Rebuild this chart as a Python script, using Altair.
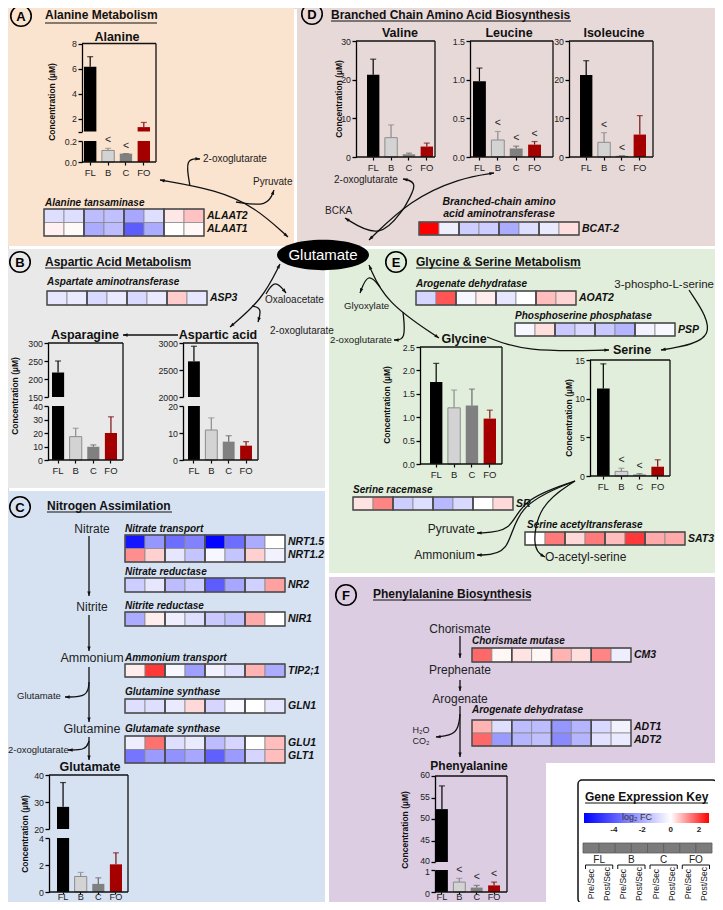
import math
import altair as alt
import pandas as pd

# ============================ DATA ============================
CATS = ["FL", "B", "C", "FO"]
CONDS = ["Pre/Sec", "Post/Sec"]
COLS = [f"{g}|{c}" for g in CATS for c in CONDS]

# metabolite concentrations (µM): mean, top of error bar, "<" flag
ALANINE_MEAN = [6.15, 0.11, 0.08, 1.35]
ALANINE_TOP = [6.95, 0.13, 0.08, 1.72]
ALANINE_LT = [0, 1, 1, 0]
VALINE_MEAN = [21.3, 5.0, 0.7, 2.7]
VALINE_TOP = [25.3, 8.3, 1.0, 3.6]
VALINE_LT = [0, 0, 0, 0]
LEUCINE_MEAN = [0.98, 0.22, 0.11, 0.16]
LEUCINE_TOP = [1.15, 0.33, 0.14, 0.20]
LEUCINE_LT = [0, 1, 1, 1]
ISOLEUCINE_MEAN = [21.2, 3.8, 0.3, 5.8]
ISOLEUCINE_TOP = [24.9, 6.3, 0.35, 10.7]
ISOLEUCINE_LT = [0, 1, 1, 0]
ASPARAGINE_MEAN = [218, 17.3, 9.8, 20.0]
ASPARAGINE_TOP = [250, 23.5, 11.2, 32.0]
ASPARAGINE_LT = [0, 0, 0, 0]
ASPARTIC_MEAN = [2660, 11.1, 6.8, 5.3]
ASPARTIC_TOP = [2940, 15.6, 9.0, 6.8]
ASPARTIC_LT = [0, 0, 0, 0]
GLYCINE_MEAN = [1.75, 1.20, 1.25, 0.97]
GLYCINE_TOP = [2.15, 1.58, 1.60, 1.15]
GLYCINE_LT = [0, 0, 0, 0]
SERINE_MEAN = [11.3, 0.6, 0.2, 1.2]
SERINE_TOP = [14.5, 1.0, 0.3, 2.1]
SERINE_LT = [0, 1, 1, 0]
GLUTAMATE_MEAN = [28.2, 1.15, 0.6, 2.05]
GLUTAMATE_TOP = [37.2, 1.45, 1.05, 2.9]
GLUTAMATE_LT = [0, 0, 0, 0]
PHE_MEAN = [52.3, 0.45, 0.2, 0.3]
PHE_TOP = [57.7, 0.62, 0.3, 0.45]
PHE_LT = [0, 1, 1, 1]

# gene expression, log2 FC (FL pre, FL post, B pre, B post, C pre, C post, FO pre, FO post)
ALAAT2 = [-0.8, -0.8, -1.6, -1.5, -2.1, -0.8, 0.25, 0.65]
ALAAT1 = [0.15, 0.05, -2.0, -1.6, -3.9, -2.0, 0.0, 0.1]
BCAT2 = [2.7, -0.4, -1.2, -1.2, -2.0, -0.8, -0.5, 0.35]
ASP3 = [-0.6, -0.5, -0.9, -0.5, -0.9, -0.5, 0.55, -0.6]
AOAT2 = [-1.0, 1.8, -0.2, 0.2, -0.6, 0.0, 0.7, 0.45]
PSP = [-0.2, 0.35, -1.3, -0.9, -1.3, -1.8, -0.3, -0.2]
SR = [0.3, 1.3, -1.2, -0.8, -1.7, -0.9, 0.0, 0.4]
SAT3 = [0.0, 1.4, 0.4, 1.4, 0.7, 2.1, 0.9, 0.9]
NRT15 = [-5.6, -2.5, -3.5, -3.0, -6.0, -3.5, -2.0, 0.0]
NRT12 = [1.2, 0.5, -0.6, -1.4, -0.2, -1.4, 0.5, -0.3]
NR2 = [-1.2, -0.6, -1.6, -1.2, -3.9, -2.1, -1.1, 1.0]
NIR1 = [-2.0, 0.2, -0.4, -0.8, -1.3, -1.5, 0.9, 0.0]
TIP21 = [0.2, 2.1, -0.2, -2.3, -0.3, -0.8, 0.8, -2.0]
GLN1 = [-0.8, -0.8, -0.5, 0.4, -1.0, -0.2, 0.0, -0.6]
GLU1 = [-0.4, 1.5, -0.8, -0.5, -1.6, -1.0, 0.0, 0.7]
GLT1 = [-3.3, -2.4, -2.6, -2.1, -3.8, -2.4, -1.0, 0.7]
CM3 = [1.6, 0.1, 0.3, 0.1, 0.8, 0.35, 1.3, -0.4]
ADT1 = [0.8, -0.8, -1.6, -1.6, -2.5, -1.8, -0.9, -0.3]
ADT2 = [1.6, -2.4, -1.8, -1.5, -2.8, -1.8, -0.7, -0.5]

FC_DOMAIN = [-6.1, 0, 2.7]
KEY_TICKS = [-4, -2, 0, 2]

# ============================ STYLE / LAYOUT ============================
W, H = 707, 894
OX, OY = 8, 8
FONT = "Liberation Sans"
FC_COLORS = ["#0000ff", "#ffffff", "#ff0000"]
BAR_FILL = ["#000000", "#d3d3d3", "#808080", "#a50000"]
BAR_STROKE = ["transparent", "#8c8c8c", "transparent", "transparent"]
ERR_COLOR = ["#000000", "#8c8c8c", "#6a6a6a", "#7a1010"]


def px(x):
    return x - OX


def py(y):
    return y - OY


MX = alt.Scale(domain=[OX, OX + W], range=[0, W], nice=False, zero=False)
MY = alt.Scale(domain=[OY, OY + H], range=[0, H], nice=False, zero=False)
FC_SCALE = alt.Scale(domain=FC_DOMAIN, range=FC_COLORS, interpolate="rgb")

PANELS = [
    (0, 294, 0, 246, "#fbe4cf"),
    (297, 723, 0, 246, "#e8d9d9"),
    (0, 325, 249, 488, "#e9e9e9"),
    (329, 723, 249, 573, "#e1eedb"),
    (0, 325, 491, 910, "#d6e2f2"),
    (329, 723, 577, 910, "#dccde2"),
    (546, 723, 763, 910, "#ffffff"),
]

# segment: (lo, hi, y px of lo, y px of hi, ticks, format, label offset)
CHARTS = [
    dict(mean=ALANINE_MEAN, top=ALANINE_TOP, lt=ALANINE_LT, frame=(82, 156, 43.5, 162), bars=(84, 150),
         segs=[(0, 0.2, 162, 141, [0, 0.2], ".1f", 0), (1, 8, 131.5, 43.5, [1, 2, 4, 6, 8], "d", 0)], hide=1.5),
    dict(mean=VALINE_MEAN, top=VALINE_TOP, lt=VALINE_LT, frame=(356, 435, 41, 157), bars=(367, 433),
         segs=[(0, 30, 157, 41, [0, 10, 20, 30], "d", 0)]),
    dict(mean=LEUCINE_MEAN, top=LEUCINE_TOP, lt=LEUCINE_LT, frame=(470, 553, 41, 157), bars=(473, 541),
         segs=[(0, 1.5, 157, 41, [0, 0.5, 1.0, 1.5], ".1f", 0)]),
    dict(mean=ISOLEUCINE_MEAN, top=ISOLEUCINE_TOP, lt=ISOLEUCINE_LT, frame=(569, 653, 41, 157), bars=(580, 646),
         segs=[(0, 30, 157, 41, [0, 10, 20, 30], "d", 0)]),
    dict(mean=ASPARAGINE_MEAN, top=ASPARAGINE_TOP, lt=ASPARAGINE_LT, frame=(48, 123, 343, 460), bars=(52, 117),
         segs=[(0, 40, 460, 406, [0, 10, 20, 30, 40], "d", 0), (150, 300, 397, 343, [150, 200, 250, 300], "d", 0)]),
    dict(mean=ASPARTIC_MEAN, top=ASPARTIC_TOP, lt=ASPARTIC_LT, frame=(183, 258, 343, 460), bars=(188, 252),
         segs=[(0, 20, 460, 406, [0, 10, 20], "d", 0), (2000, 3000, 397, 343, [2000, 2500, 3000], "d", 0)]),
    dict(mean=GLYCINE_MEAN, top=GLYCINE_TOP, lt=GLYCINE_LT, frame=(420, 502, 347, 464), bars=(430, 496),
         segs=[(0, 2.5, 464, 347, [0, 0.5, 1.0, 1.5, 2.0, 2.5], ".1f", 0)]),
    dict(mean=SERINE_MEAN, top=SERINE_TOP, lt=SERINE_LT, frame=(590, 670, 360, 476), bars=(597, 664),
         segs=[(0, 15, 476, 360, [0, 5, 10, 15], "d", 0)]),
    dict(mean=GLUTAMATE_MEAN, top=GLUTAMATE_TOP, lt=GLUTAMATE_LT, frame=(49, 128, 775, 892), bars=(57, 122),
         segs=[(0, 4, 892, 838, [0, 2, 4], "d", 0), (20, 40, 829, 775, [20, 30, 40], "d", 0)], lowlab=True),
    dict(mean=PHE_MEAN, top=PHE_TOP, lt=PHE_LT, frame=(435, 507, 776, 892), bars=(436, 500),
         segs=[(0, 1, 892, 870, [0, 1], "d", 1.5), (40, 60, 862, 776, [40, 45, 50, 55, 60], "d", -1.5)], lowlab=True),
]

HEATMAPS = [
    (["ALAAT2", "ALAAT1"], [ALAAT2, ALAAT1], (44, 204, 209, 236)),
    (["BCAT-2"], [BCAT2], (419, 579, 222, 235)),
    (["ASP3"], [ASP3], (47, 207, 291, 305)),
    (["AOAT2"], [AOAT2], (416, 576, 291, 305)),
    (["PSP"], [PSP], (515, 675, 323, 336)),
    (["SR"], [SR], (353, 513, 497, 510)),
    (["SAT3"], [SAT3], (525, 685, 532, 545)),
    (["NRT1.5", "NRT1.2"], [NRT15, NRT12], (125, 285, 535, 562)),
    (["NR2"], [NR2], (125, 285, 578, 592)),
    (["NIR1"], [NIR1], (125, 285, 612, 626)),
    (["TIP2;1"], [TIP21], (125, 285, 664, 677)),
    (["GLN1"], [GLN1], (125, 285, 699, 713)),
    (["GLU1", "GLT1"], [GLU1, GLT1], (125, 285, 736, 763)),
    (["CM3"], [CM3], (472, 631, 648, 662)),
    (["ADT1", "ADT2"], [ADT1, ADT2], (472, 631, 720, 746)),
]

LETTERS = [("A", 21, 16), ("D", 312, 14), ("B", 20, 262), ("C", 20, 507), ("E", 396, 262), ("F", 346, 595)]

B, N, I = "bold", "normal", "italic"
TEXTS = []
for L_, x_, y_ in LETTERS:
    TEXTS.append((x_, y_ + 0.5, L_, 13, B, N, "center", "#000", 0))
TEXTS += [
    (45, 15, "Alanine Metabolism", 12, B, N, "left", "#111", 0),
    (331, 15, "Branched Chain Amino Acid Biosynthesis", 12, B, N, "left", "#111", 0),
    (45, 262, "Aspartic Acid Metabolism", 12, B, N, "left", "#111", 0),
    (47, 506, "Nitrogen Assimilation", 12, B, N, "left", "#111", 0),
    (416, 262, "Glycine & Serine Metabolism", 12, B, N, "left", "#111", 0),
    (373, 594, "Phenylalanine Biosynthesis", 12, B, N, "left", "#111", 0),
    (585, 797, "Gene Expression Key", 12, B, N, "left", "#111", 0),
    # chart titles
    (117, 37, "Alanine", 12.5, B, N, "center", "#111", 0),
    (400, 33, "Valine", 12.5, B, N, "center", "#111", 0),
    (509, 33, "Leucine", 12.5, B, N, "center", "#111", 0),
    (614, 33, "Isoleucine", 12.5, B, N, "center", "#111", 0),
    (85, 335, "Asparagine", 12.5, B, N, "center", "#111", 0),
    (218, 335, "Aspartic acid", 12.5, B, N, "center", "#111", 0),
    (464, 339, "Glycine", 12.5, B, N, "center", "#111", 0),
    (632, 350, "Serine", 12.5, B, N, "center", "#111", 0),
    (90, 767, "Glutamate", 12.5, B, N, "center", "#111", 0),
    (469, 766, "Phenyalanine", 12, B, N, "center", "#111", 0),
    # axis titles
    (52, 102, "Concentration (µM)", 8.5, B, N, "center", "#111", 270),
    (339, 99, "Concentration (µM)", 8.5, B, N, "center", "#111", 270),
    (15, 396, "Concentration (µM)", 8.5, B, N, "center", "#111", 270),
    (387, 405, "Concentration (µM)", 8.5, B, N, "center", "#111", 270),
    (569, 418, "Concentration (µM)", 8.5, B, N, "center", "#111", 270),
    (25, 834, "Concentration (µM)", 8.5, B, N, "center", "#111", 270),
    (405, 830, "Concentration (µM)", 8.5, B, N, "center", "#111", 270),
    # enzyme names
    (45, 203, "Alanine tansaminase", 10, B, I, "left", "#111", 0),
    (499, 202, "Branched-chain amino", 10.5, B, I, "center", "#111", 0),
    (499, 214, "acid aminotransferase", 10.5, B, I, "center", "#111", 0),
    (47, 282, "Aspartate aminotransferase", 10, B, I, "left", "#111", 0),
    (416, 284, "Arogenate dehydratase", 10, B, I, "left", "#111", 0),
    (515, 316, "Phosphoserine phosphatase", 10, B, I, "left", "#111", 0),
    (353, 490, "Serine racemase", 10, B, I, "left", "#111", 0),
    (527, 525, "Serine acetyltransferase", 10, B, I, "left", "#111", 0),
    (125, 529, "Nitrate transport", 10, B, I, "left", "#111", 0),
    (125, 572, "Nitrate reductase", 10, B, I, "left", "#111", 0),
    (125, 606, "Nitrite reductase", 10, B, I, "left", "#111", 0),
    (125, 658, "Ammonium transport", 10, B, I, "left", "#111", 0),
    (125, 692, "Glutamine synthase", 10, B, I, "left", "#111", 0),
    (125, 729, "Glutamate synthase", 10, B, I, "left", "#111", 0),
    (472, 641, "Chorismate mutase", 10, B, I, "left", "#111", 0),
    (472, 710, "Arogenate dehydratase", 10, B, I, "left", "#111", 0),
    # pathway labels
    (203, 159, "2-oxoglutarate", 10, N, N, "left", "#222", 0),
    (253, 182, "Pyruvate", 10, N, N, "left", "#222", 0),
    (334, 180, "2-oxoglutarate", 10, N, N, "left", "#222", 0),
    (325, 211, "BCKA", 10, N, N, "left", "#222", 0),
    (265, 300, "Oxaloacetate", 10, N, N, "left", "#222", 0),
    (270, 331, "2-oxoglutarate", 10, N, N, "left", "#222", 0),
    (344, 306, "Glyoxylate", 9.7, N, N, "left", "#222", 0),
    (330, 340, "2-oxoglutarate", 9.7, N, N, "left", "#222", 0),
    (714, 285, "3-phospho-L-serine", 11.5, N, N, "right", "#222", 0),
    (475, 529, "Pyruvate", 12, N, N, "right", "#222", 0),
    (475, 555, "Ammonium", 12, N, N, "right", "#222", 0),
    (545, 557, "O-acetyl-serine", 12, N, N, "left", "#222", 0),
    (92, 529, "Nitrate", 12, N, N, "center", "#222", 0),
    (92, 607, "Nitrite", 12, N, N, "center", "#222", 0),
    (92, 658, "Ammonium", 12.5, N, N, "center", "#222", 0),
    (92, 729, "Glutamine", 12.5, N, N, "center", "#222", 0),
    (17, 696, "Glutamate", 9.5, N, N, "left", "#222", 0),
    (8, 750, "2-oxoglutarate", 9.5, N, N, "left", "#222", 0),
    (460, 629, "Chorismate", 12, N, N, "center", "#222", 0),
    (460, 670, "Prephenate", 12, N, N, "center", "#222", 0),
    (460, 699, "Arogenate", 12, N, N, "center", "#222", 0),
    (421, 730, "H₂O", 9, N, N, "center", "#222", 0),
    (421, 741, "CO₂", 9, N, N, "center", "#222", 0),
    (323, 255, "Glutamate", 15, N, N, "center", "#ffffff", 0),
    (637, 817, "log₂ FC", 9, N, N, "center", "#333", 0),
]

RULES = [
    (45, 23, 157, 23, 1), (331, 21, 571, 21, 1), (45, 268, 191, 268, 1), (47, 512, 172, 512, 1),
    (416, 268, 581, 268, 1), (373, 600, 531, 600, 1), (585, 803, 708, 803, 1),
]
for ch in CHARTS:
    fx0, fx1, fyt, fyb = ch["frame"]
    RULES += [(fx0, fyt, fx1, fyt, 1.3), (fx1, fyt, fx1, fyb, 1.3), (fx0, fyb, fx1, fyb, 1.4)]
KX0, KX1 = 583, 712
gw = (KX1 - KX0) / 4
for k in range(4):
    a = KX0 + k * gw + 2.5
    b_ = a + gw - 5
    RULES += [(a, 865, b_, 865, 1), (a, 865, a, 869, 1), (b_, 865, b_, 869, 1)]

# arrows: (points, head at start, head at end)
ARROWS = [
    ([(160, 180), (217, 190), (255, 207), (288, 237)], True, True),
    ([(190, 186), (185, 158), (200, 159)], False, True),
    ([(236, 202), (268, 207), (274, 190)], False, True),
    ([(369, 240), (410, 200), (460, 178), (494, 173)], True, True),
    ([(404, 208), (419, 182), (403, 179)], False, True),
    ([(404, 208), (380, 240), (345, 218)], False, True),
    ([(280, 264), (262, 300), (230, 327)], True, True),
    ([(266, 294), (275, 279), (286, 293)], False, True),
    ([(252, 306), (262, 308), (258, 322)], False, True),
    ([(178, 335), (123, 335)], False, True),
    ([(369, 265), (385, 302), (439, 338)], True, True),
    ([(380, 287), (368, 272), (360, 293)], False, True),
    ([(403, 312), (406, 340), (394, 340)], False, True),
    ([(487, 337), (525, 352), (609, 350)], False, True),
    ([(689, 290), (722, 340), (661, 350)], False, True),
    ([(575, 481), (520, 500), (512, 532), (477, 533)], False, True),
    ([(575, 481), (515, 505), (510, 555), (477, 555)], False, True),
    ([(575, 481), (538, 505), (532, 550), (545, 557)], False, True),
    ([(89, 536), (89, 596)], False, True),
    ([(89, 615), (89, 651)], False, True),
    ([(89, 667), (89, 722)], False, True),
    ([(89, 737), (89, 760)], False, True),
    ([(89, 682), (88, 697), (65, 697)], False, True),
    ([(89, 741), (86, 750), (68, 750)], False, True),
    ([(460, 636), (460, 658)], False, True),
    ([(460, 680), (460, 691)], False, True),
    ([(460, 706), (460, 757)], False, True),
    ([(460, 714), (458, 735), (436, 737)], False, True),
]

ARROW_SHAPE = "M0,0L0.85,2.3L-0.85,2.3Z"
ELLIPSE_SHAPE = "M-1,0A1,0.33,0,1,0,1,0A1,0.33,0,1,0,-1,0Z"


# ============================ BUILDERS ============================
def mxy(xf, yf):
    return dict(x=alt.X(xf, scale=MX, axis=None), y=alt.Y(yf, scale=MY, axis=None))


def bar_chart_layers(ch):
    df = pd.DataFrame({"cat": CATS, "mean": ch["mean"], "top": ch["top"], "lt": ch["lt"],
                       "fill": BAR_FILL, "stroke": BAR_STROKE, "ecol": ERR_COLOR})
    fx0, fx1, fyt, fyb = ch["frame"]
    L, R = ch["bars"]
    g = 5.5
    step = (R - L + g) / 4
    p = g / step
    xs = alt.Scale(domain=CATS, range=[px(L - g / 2), px(R + g / 2)], paddingInner=p, paddingOuter=p / 2)
    low = ch.get("lowlab", False)
    out = []
    for k, (lo, hi, ylo, yhi, ticks, fmt, loff) in enumerate(ch["segs"]):
        ys = alt.Scale(domain=[lo, hi], range=[py(ylo), py(yhi)], clamp=True, nice=False, zero=False)
        ykw = dict(orient="left", offset=-px(fx0), values=ticks, format=fmt, title=None, grid=False,
                   domainColor="#000", domainWidth=1.3, tickColor="#000", tickWidth=1.3, tickSize=4,
                   labelFont=FONT, labelFontSize=8.8, labelColor="#222", labelPadding=1.5, zindex=1,
                   labelOffset=loff)
        if k == 1 and "hide" in ch:
            ykw["labelExpr"] = f"datum.value < {ch['hide']} ? '' : datum.label"
        yax = alt.Axis(**ykw)
        if k == 0:
            xax = alt.Axis(orient="bottom", offset=-(H - py(fyb)), domain=False, ticks=True,
                           tickSize=2 if low else 3, tickColor="#000", tickWidth=1.2, labelFont=FONT,
                           labelFontSize=9.2 if low else 9.5, labelColor="#222",
                           labelPadding=-1.5 if low else 2, labelAngle=0, title=None, zindex=1)
        else:
            xax = None
        X = alt.X("cat:N", scale=xs, axis=xax, sort=CATS)
        base = alt.Chart(df)
        bars = base.transform_filter(f"datum.mean > {lo}").mark_bar(strokeWidth=1).encode(
            x=X, y=alt.Y("mean:Q", scale=ys, axis=yax), y2=alt.datum(lo),
            color=alt.Color("fill:N", scale=None), stroke=alt.Stroke("stroke:N", scale=None))
        cond = f"datum.mean > {lo} && datum.mean <= {hi}"
        err = base.transform_filter(cond).mark_rule(strokeWidth=1.2).encode(
            x=X, y=alt.Y("mean:Q", scale=ys, axis=yax), y2="top:Q", color=alt.Color("ecol:N", scale=None))
        cap = base.transform_filter(cond).mark_tick(size=6, thickness=1.2).encode(
            x=X, y=alt.Y("top:Q", scale=ys, axis=yax), color=alt.Color("ecol:N", scale=None))
        lt = base.transform_filter(cond + " && datum.lt == 1").mark_text(
            dy=-8, fontSize=10.5, font=FONT, color="#222").encode(
            x=X, y=alt.Y("top:Q", scale=ys, axis=yax), text=alt.value("<"))
        out.append(alt.layer(bars, err, cap, lt))
    return out


def heatmap_layers(genes, rows, box):
    x0, x1, y0, y1 = box
    recs = [{"gene": gname, "col": c, "v": v} for gname, r in zip(genes, rows) for c, v in zip(COLS, r)]
    df = pd.DataFrame(recs)
    xs = alt.Scale(domain=COLS, range=[px(x0), px(x1)], paddingInner=0, paddingOuter=0)
    ys = alt.Scale(domain=genes, range=[py(y0), py(y1)], paddingInner=0, paddingOuter=0)
    cells = alt.Chart(df).mark_rect(stroke="#8a8a8a", strokeWidth=0.8).encode(
        x=alt.X("col:N", scale=xs, axis=None, sort=COLS),
        y=alt.Y("gene:N", scale=ys, axis=None, sort=genes),
        fill=alt.Fill("v:Q", scale=FC_SCALE, legend=None))
    labels = alt.Chart(pd.DataFrame({"gene": genes})).mark_text(
        align="left", baseline="middle", font=FONT, fontSize=10.5, fontWeight="bold",
        fontStyle="italic", color="#111").encode(
        x=alt.value(px(x1 + 3)), y=alt.Y("gene:N", scale=ys, axis=None, sort=genes), text="gene:N")
    grp = alt.Chart(pd.DataFrame({"grp": CATS, "all": ["all"] * 4})).mark_rect(
        fill="transparent", stroke="#4a4a4a", strokeWidth=1.4).encode(
        x=alt.X("grp:N", scale=alt.Scale(domain=CATS, range=[px(x0), px(x1)], paddingInner=0, paddingOuter=0),
                axis=None, sort=CATS),
        y=alt.Y("all:N", scale=alt.Scale(domain=["all"], range=[py(y0), py(y1)], paddingInner=0, paddingOuter=0),
                axis=None))
    return [alt.layer(cells, labels), grp]


def text_layers(items):
    df = pd.DataFrame(items, columns=["x", "y", "t", "s", "w", "st", "a", "c", "ang"])
    out = []
    for (w, st, a), sub in df.groupby(["w", "st", "a"]):
        out.append(alt.Chart(sub.reset_index(drop=True)).mark_text(
            font=FONT, fontWeight=w, fontStyle=st, align=a, baseline="middle").encode(
            **mxy("x:Q", "y:Q"), text="t:N",
            size=alt.Size("s:Q", scale=None), color=alt.Color("c:N", scale=None),
            angle=alt.Angle("ang:Q", scale=None)))
    return out


# ============================ LAYERS ============================
layers = []

bg = pd.DataFrame(PANELS, columns=["x0", "x1", "y0", "y1", "col"])
layers.append(alt.Chart(bg).mark_rect().encode(
    **mxy("x0:Q", "y0:Q"), x2="x1:Q", y2="y1:Q", fill=alt.Fill("col:N", scale=None)))

keybox = pd.DataFrame([{"x0": 578, "x1": 717, "y0": 780, "y1": 903}])
layers.append(alt.Chart(keybox).mark_rect(fill="#ffffff", stroke="#111", strokeWidth=1.5, cornerRadius=4).encode(
    **mxy("x0:Q", "y0:Q"), x2="x1:Q", y2="y1:Q"))

for ch in CHARTS:
    layers += bar_chart_layers(ch)

for genes, rows, box in HEATMAPS:
    layers += heatmap_layers(genes, rows, box)

rules = pd.DataFrame(RULES, columns=["x0", "y0", "x1", "y1", "w"])
layers.append(alt.Chart(rules).mark_rule(color="#111").encode(
    **mxy("x0:Q", "y0:Q"), x2="x1:Q", y2="y1:Q", size=alt.Size("w:Q", scale=None)))

line_rows, head_rows = [], []
for k, (pts, hs, he) in enumerate(ARROWS):
    for i, (x, y) in enumerate(pts):
        line_rows.append({"id": k, "i": i, "x": x, "y": y})
    if he:
        (ax, ay), (bx, by) = pts[-2], pts[-1]
        head_rows.append({"x": bx, "y": by, "ang": math.degrees(math.atan2(bx - ax, -(by - ay))) % 360})
    if hs:
        (ax, ay), (bx, by) = pts[1], pts[0]
        head_rows.append({"x": bx, "y": by, "ang": math.degrees(math.atan2(bx - ax, -(by - ay))) % 360})
layers.append(alt.Chart(pd.DataFrame(line_rows)).mark_line(color="#111", strokeWidth=1.3, interpolate="basis").encode(
    **mxy("x:Q", "y:Q"), detail="id:N", order="i:Q"))
layers.append(alt.Chart(pd.DataFrame(head_rows)).mark_point(
    shape=ARROW_SHAPE, size=16, filled=True, color="#111", opacity=1).encode(
    **mxy("x:Q", "y:Q"), angle=alt.Angle("ang:Q", scale=None)))

layers.append(alt.Chart(pd.DataFrame([{"x": 323, "y": 255}])).mark_point(
    shape=ELLIPSE_SHAPE, size=92 * 92, filled=True, color="#000", opacity=1).encode(**mxy("x:Q", "y:Q")))
layers.append(alt.Chart(pd.DataFrame([{"x": x, "y": y} for _, x, y in LETTERS])).mark_point(
    shape="circle", size=420, filled=False, color="#000", strokeWidth=1.6, opacity=1).encode(**mxy("x:Q", "y:Q")))

# key
grad = alt.LinearGradient(
    gradient="linear",
    stops=[alt.GradientStop(color=FC_COLORS[0], offset=0),
           alt.GradientStop(color=FC_COLORS[1], offset=(FC_DOMAIN[1] - FC_DOMAIN[0]) / (FC_DOMAIN[2] - FC_DOMAIN[0])),
           alt.GradientStop(color=FC_COLORS[2], offset=1)],
    x1=0, x2=1, y1=0, y2=0)
layers.append(alt.Chart(pd.DataFrame([{"x0": 584, "x1": 709, "y0": 813, "y1": 823}])).mark_rect(fill=grad).encode(
    **mxy("x0:Q", "y0:Q"), x2="x1:Q", y2="y1:Q"))
layers.append(alt.Chart(pd.DataFrame({"v": KEY_TICKS, "lab": [str(v) for v in KEY_TICKS]})).mark_text(
    font=FONT, fontSize=8, fontWeight="bold", color="#222").encode(
    x=alt.X("v:Q", scale=alt.Scale(domain=[FC_DOMAIN[0], FC_DOMAIN[-1]], range=[px(584), px(709)], nice=False, zero=False), axis=None),
    y=alt.value(py(830)), text="lab:N"))
kdf = pd.DataFrame({"col": COLS, "cond": [c.split("|")[1] for c in COLS], "all": ["all"] * len(COLS)})
kx = alt.Scale(domain=COLS, range=[px(KX0), px(KX1)], paddingInner=0, paddingOuter=0)
layers.append(alt.layer(
    alt.Chart(kdf).mark_rect(fill="#7b7b7b", stroke="#5c5c5c", strokeWidth=0.8).encode(
        x=alt.X("col:N", scale=kx, axis=None, sort=COLS),
        y=alt.Y("all:N", scale=alt.Scale(domain=["all"], range=[py(843), py(853)], paddingInner=0, paddingOuter=0), axis=None)),
    alt.Chart(kdf).mark_text(font=FONT, fontSize=8.5, angle=270, align="center", baseline="middle", color="#222").encode(
        x=alt.X("col:N", scale=kx, axis=None, sort=COLS), y=alt.value(py(884)), text="cond:N"),
))
layers.append(alt.Chart(pd.DataFrame({"grp": CATS})).mark_text(font=FONT, fontSize=10, color="#222").encode(
    x=alt.X("grp:N", scale=alt.Scale(domain=CATS, range=[px(KX0), px(KX1)], paddingInner=0, paddingOuter=0), axis=None, sort=CATS),
    y=alt.value(py(860)), text="grp:N"))

layers += text_layers(TEXTS)

chart = alt.layer(*layers).resolve_scale(
    x="independent", y="independent", color="independent", fill="independent", stroke="independent"
).properties(
    width=W, height=H, autosize=alt.AutoSizeParams(type="none"), padding=0
).configure_view(stroke="transparent").configure(background="white")

chart.save("out.html", embed_options={"renderer": "svg", "actions": False})
